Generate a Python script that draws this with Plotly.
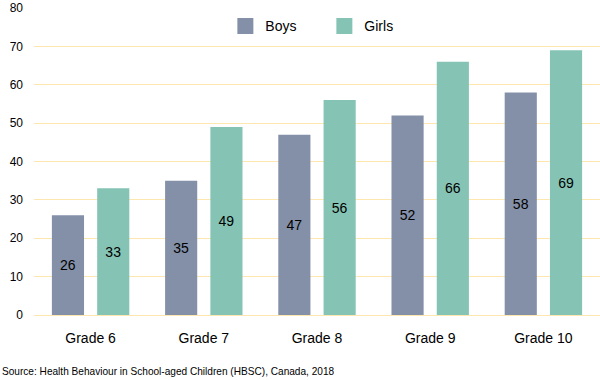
import plotly.graph_objects as go

categories = ["Grade 6", "Grade 7", "Grade 8", "Grade 9", "Grade 10"]
boys = [26, 35, 47, 52, 58]
girls = [33, 49, 56, 66, 69]
y_ticks = [0, 10, 20, 30, 40, 50, 60, 70, 80]
series_names = ["Boys", "Girls"]
series_colors = ["#8490a8", "#85c4b4"]

font_family = "Liberation Sans, Arial, sans-serif"

fig = go.Figure()
for name, vals, col in zip(series_names, [boys, girls], series_colors):
    fig.add_bar(x=categories, y=vals, name=name, showlegend=False,
                marker=dict(color=col, line=dict(width=0)),
                text=vals, textposition="inside", insidetextanchor="middle",
                textfont=dict(color="#000000", size=14, family=font_family))
# legend entries with larger square swatches
for name, col in zip(series_names, series_colors):
    fig.add_scatter(x=[None], y=[None], mode="markers", name=name,
                    marker=dict(symbol="square", size=17, color=col))

fig.update_layout(
    width=600, height=380,
    margin=dict(l=34, r=0, t=8, b=65),
    paper_bgcolor="white", plot_bgcolor="white",
    barmode="group", bargap=0.2, bargroupgap=0.29,
    font=dict(family=font_family, color="#000000"),
    legend=dict(orientation="h", x=0.513, xanchor="center", y=0.94, yanchor="middle",
                font=dict(size=14), bgcolor="rgba(0,0,0,0)",
                entrywidth=54, entrywidthmode="pixels",
                traceorder="normal"),
    xaxis=dict(showgrid=False, showline=True, linecolor="#fde7ae", linewidth=1,
               tickfont=dict(size=14), ticks="", ticklabelstandoff=10, automargin=False),
    yaxis=dict(range=[0, 80], tickvals=y_ticks, showgrid=True, gridcolor="#fde7ae",
               gridwidth=1, zeroline=False, tickfont=dict(size=12), ticks="",
               ticklabelstandoff=10, automargin=False),
    uniformtext=dict(minsize=8, mode="show"),
)
fig.add_annotation(text="Source: Health Behaviour in School-aged Children (HBSC), Canada, 2018",
                   xref="paper", yref="paper", x=0, y=0, xanchor="left", yanchor="middle",
                   xshift=-34, yshift=-56, showarrow=False, font=dict(size=10.1))
fig.write_html("out.html", config={"displayModeBar": False},
               post_script="document.body.style.margin='0';")
